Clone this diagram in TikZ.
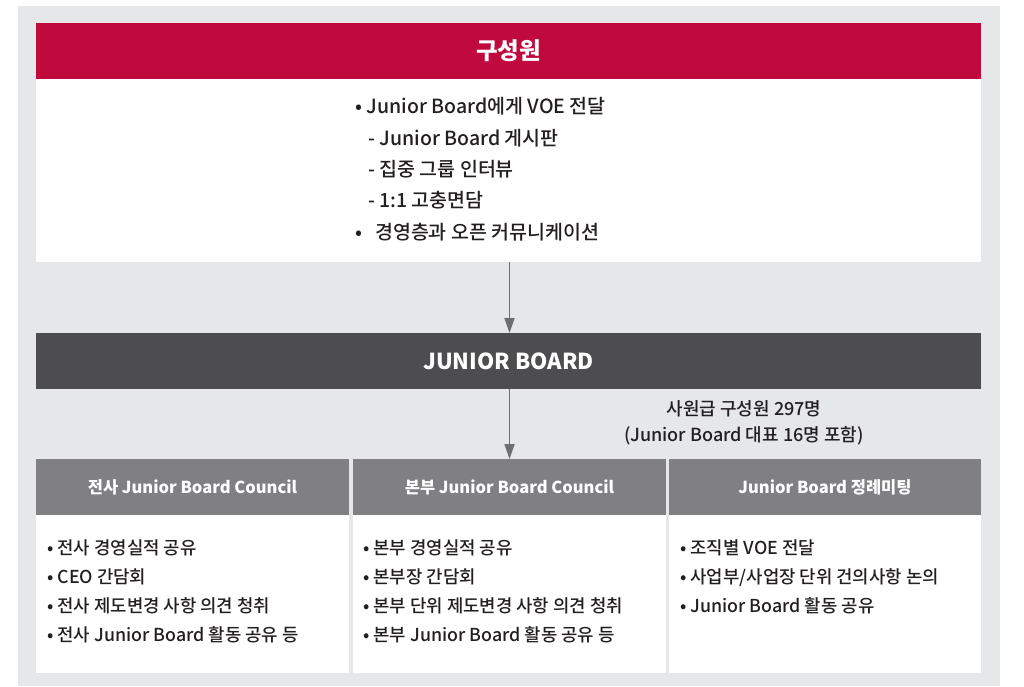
\documentclass[tikz,border=0pt]{standalone}
\usepackage{fontspec}
\setmainfont{Noto Sans CJK KR}
\newfontfamily\medfont{Noto Sans CJK KR Medium}
\usetikzlibrary{arrows.meta,calc}

\definecolor{lgred}{HTML}{C00A3D}
\definecolor{bggray}{HTML}{E6E7E9}
\definecolor{bardark}{HTML}{4D4D4F}
\definecolor{headgray}{HTML}{808083}
\definecolor{arrowgray}{HTML}{6D6E70}
\definecolor{txtdark}{HTML}{231F20}

\begin{document}
\begin{tikzpicture}[x=1pt,y=-1pt,
    panel/.style={anchor=north west, inner sep=0pt, outer sep=0pt, draw=none},
    headtxt/.style={text=white, font=\bfseries\fontsize{16.5}{19}\selectfont},
    itemtxt/.style={anchor=base west, inner sep=0pt, text=txtdark, font=\medfont\fontsize{17.8}{20}\selectfont},
    flow/.style={draw=arrowgray, line width=1.8pt, -{Triangle[length=15pt,width=10pt]}}]

    \useasboundingbox (0,0) rectangle (1024,687);
    \fill [bggray] (18,6) rectangle (1000,686);

    %%%%%%%%%%%%%%%%%% 구성원
    \node [panel, fill=lgred, minimum width=945, minimum height=56] (members) at (36,23) {};
    \node [text=white, font=\bfseries\fontsize{23.5}{26}\selectfont] (memberstitle) at (members.center) {구성원};
    \node [panel, fill=white, minimum width=945, minimum height=183] (memberlist) at (36,79) {};

    \foreach \x/\t [count=\i] in {355/{• Junior Board에게 VOE 전달},
                                  368/{- Junior Board 게시판},
                                  368/{- 집중 그룹 인터뷰},
                                  368/{- 1:1 고충면담},
                                  355/{•\hspace{13pt}경영층과 오픈 커뮤니케이션}}
        \node [itemtxt, font=\medfont\fontsize{19.5}{22}\selectfont] (ml\i) at (\x,{107+31.25*(\i-1)+7}) {\t};

    %%%%%%%%%%%%%%%%%% JUNIOR BOARD
    \node [panel, fill=bardark, minimum width=945, minimum height=56] (jb) at (36,333) {};
    \node [text=white, font=\bfseries\fontsize{22}{26}\selectfont] (jbtitle) at (jb.center) {JUNIOR BOARD};

    \node [align=center, text=txtdark, font=\medfont\fontsize{18}{26}\selectfont] (note) at (744,423)
        {사원급 구성원 297명\\(Junior Board 대표 16명 포함)};

    %%%%%%%%%%%%%%%%%% 세 회의체
    \node [panel, fill=headgray, minimum width=313, minimum height=56] (hq1) at (36,459) {};
    \node [panel, fill=headgray, minimum width=313, minimum height=56] (hq2) at (353,459) {};
    \node [panel, fill=headgray, minimum width=312, minimum height=56] (hq3) at (669,459) {};
    \node [headtxt] (hq1t) at (hq1.center) {전사 Junior Board Council};
    \node [headtxt] (hq2t) at (hq2.center) {본부 Junior Board Council};
    \node [headtxt] (hq3t) at (hq3.center) {Junior Board 정례미팅};

    \node [panel, fill=white, minimum width=313, minimum height=158] (body1) at (36,515) {};
    \node [panel, fill=white, minimum width=313, minimum height=158] (body2) at (353,515) {};
    \node [panel, fill=white, minimum width=312, minimum height=158] (body3) at (669,515) {};

    \foreach \t [count=\i] in {{• 전사 경영실적 공유},{• CEO 간담회},
                               {• 전사 제도변경 사항 의견 청취},{• 전사 Junior Board 활동 공유 등}}
        \node [itemtxt] (ba\i) at (47,{548+29*(\i-1)+6.5}) {\t};
    \foreach \t [count=\i] in {{• 본부 경영실적 공유},{• 본부장 간담회},
                               {• 본부 단위 제도변경 사항 의견 청취},{• 본부 Junior Board 활동 공유 등}}
        \node [itemtxt] (bb\i) at (363,{548+29*(\i-1)+6.5}) {\t};
    \foreach \t [count=\i] in {{• 조직별 VOE 전달},{• 사업부/사업장 단위 건의사항 논의},
                               {• Junior Board 활동 공유}}
        \node [itemtxt] (bc\i) at (680,{548+29*(\i-1)+6.5}) {\t};

    %%%%%%%%%%%%%%%%%% 화살표
    \draw [flow] (memberlist.south -| hq2.north) -- (jb.north -| hq2.north);
    \draw [flow] (jb.south -| hq2.north) -- (hq2.north);

\end{tikzpicture}
\end{document}
